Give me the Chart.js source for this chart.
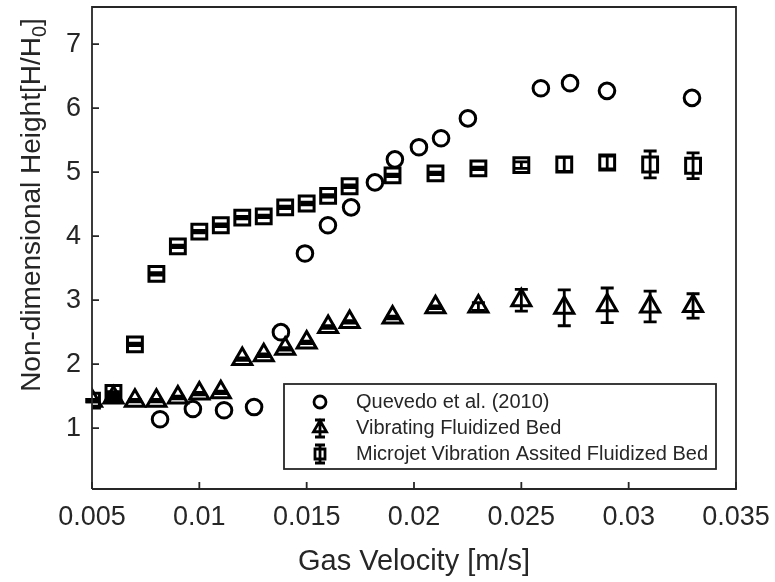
<!DOCTYPE html>
<html>
<head>
<meta charset="utf-8">
<script src="https://cdn.jsdelivr.net/npm/chart.js"></script>
<style>
  body { margin: 0; background: #ffffff; }
  #wrap { width: 775px; height: 582px; }
</style>
</head>
<body>
<div id="wrap"><canvas id="bedChart" width="775" height="582"></canvas></div>
<script>
// Quevedo et al. (2010) reference points
const quevedoX = [0.00817, 0.0097, 0.01115, 0.01255, 0.0138, 0.01492, 0.01599, 0.01707, 0.01818,
                  0.01911, 0.02023, 0.02126, 0.02251, 0.02591, 0.02727, 0.02899, 0.03295];
const quevedoY = [1.14, 1.30, 1.28, 1.33, 2.50, 3.73, 4.17, 4.45, 4.84,
                  5.20, 5.39, 5.53, 5.84, 6.31, 6.39, 6.27, 6.16];

// Gas velocities used in both bed experiments
const velocity = [0.005, 0.006, 0.007, 0.008, 0.009, 0.010, 0.011, 0.012, 0.013, 0.014, 0.015,
                  0.016, 0.017, 0.019, 0.021, 0.023, 0.025, 0.027, 0.029, 0.031, 0.033];

// Vibrating fluidized bed: mean height and error
const vibratingY = [1.43, 1.48, 1.43, 1.43, 1.48, 1.54, 1.56, 2.08, 2.14, 2.24, 2.34,
                    2.58, 2.66, 2.73, 2.89, 2.90, 3.00, 2.88, 2.92, 2.90, 2.91];
const vibratingErr = [0.02, 0.02, 0.02, 0.02, 0.02, 0.02, 0.02, 0.02, 0.02, 0.02, 0.02,
                      0.02, 0.02, 0.02, 0.02, 0.06, 0.17, 0.28, 0.27, 0.24, 0.19];

// Microjet vibration assisted fluidized bed: mean height and error
const microjetY = [1.43, 1.55, 2.31, 3.41, 3.84, 4.07, 4.17, 4.29, 4.31, 4.45, 4.51,
                   4.63, 4.78, 4.95, 4.98, 5.06, 5.11, 5.12, 5.15, 5.12, 5.10];
const microjetErr = [0.02, 0.02, 0.02, 0.02, 0.02, 0.02, 0.02, 0.02, 0.02, 0.02, 0.02,
                     0.02, 0.02, 0.02, 0.02, 0.02, 0.05, 0.11, 0.10, 0.21, 0.20];

const legendLabels = ['Quevedo et al. (2010)', 'Vibrating Fluidized Bed', 'Microjet Vibration Assited Fluidized Bed'];

const xTicks = [0.005, 0.01, 0.015, 0.02, 0.025, 0.03, 0.035];
const xTickLabels = ['0.005', '0.01', '0.015', '0.02', '0.025', '0.03', '0.035'];
const yTicks = [1, 2, 3, 4, 5, 6, 7];

const AXIS = '#262626';
const FONT = 'Liberation Sans, Arial, sans-serif';

function toPoints(xs, ys) {
    return xs.map((x, i) => ({ x: x, y: ys[i] }));
}

// fixed axis box: no label overhang padding
function fixAxis(size, dim) {
    return s => {
        s[dim] = size;
        s.paddingLeft = 0; s.paddingRight = 0;
        s.paddingTop = 0; s.paddingBottom = 0;
    };
}

// Vertical error bars with caps
const errorBars = {
    id: 'errorBars',
    afterDatasetsDraw(chart) {
        const ctx = chart.ctx;
        const xs = chart.scales.x, ys = chart.scales.y;
        chart.data.datasets.forEach(ds => {
            if (!ds.errors) return;
            ctx.save();
            ctx.strokeStyle = '#000000';
            ctx.lineWidth = 2.8;
            ds.data.forEach((p, i) => {
                const px = xs.getPixelForValue(p.x);
                const top = ys.getPixelForValue(p.y + ds.errors[i]);
                const bot = ys.getPixelForValue(p.y - ds.errors[i]);
                ctx.beginPath();
                ctx.moveTo(px, top); ctx.lineTo(px, bot);
                ctx.moveTo(px - 6.5, top); ctx.lineTo(px + 6.5, top);
                ctx.moveTo(px - 6.5, bot); ctx.lineTo(px + 6.5, bot);
                ctx.stroke();
            });
            ctx.restore();
        });
    }
};

// Box outline, inward tick marks, axis titles and legend
const decorations = {
    id: 'decorations',
    afterDraw(chart) {
        const ctx = chart.ctx;
        const a = chart.chartArea;
        const xs = chart.scales.x, ys = chart.scales.y;
        ctx.save();

        // box on
        ctx.strokeStyle = AXIS;
        ctx.lineWidth = 1.8;
        ctx.beginPath();
        ctx.moveTo(a.left, a.bottom); ctx.lineTo(a.left, a.top); ctx.lineTo(a.right, a.top);
        ctx.lineTo(a.right, a.bottom); ctx.lineTo(a.left, a.bottom);
        ctx.stroke();

        // ticks pointing into the plot
        ctx.beginPath();
        xTicks.forEach(v => {
            const px = xs.getPixelForValue(v);
            ctx.moveTo(px, a.bottom); ctx.lineTo(px, a.bottom - 7);
        });
        yTicks.forEach(v => {
            const py = ys.getPixelForValue(v);
            ctx.moveTo(a.left, py); ctx.lineTo(a.left + 7, py);
        });
        ctx.stroke();

        // x title
        ctx.fillStyle = AXIS;
        ctx.font = '29px ' + FONT;
        ctx.textAlign = 'center';
        ctx.textBaseline = 'middle';
        ctx.fillText('Gas Velocity [m/s]', (a.left + a.right) / 2, 562);

        // y title with subscript
        ctx.save();
        ctx.translate(30, 205);
        ctx.rotate(-Math.PI / 2);
        ctx.textAlign = 'left';
        ctx.textBaseline = 'alphabetic';
        const main = 'Non-dimensional Height[H/H', sub = '0', tail = ']';
        ctx.font = '28px ' + FONT;
        const w1 = ctx.measureText(main).width;
        const w3 = ctx.measureText(tail).width;
        ctx.font = '20px ' + FONT;
        const w2 = ctx.measureText(sub).width;
        let x0 = -(w1 + w2 + w3) / 2;
        ctx.font = '28px ' + FONT;
        ctx.fillText(main, x0, 10);
        ctx.font = '20px ' + FONT;
        ctx.fillText(sub, x0 + w1, 16);
        ctx.font = '28px ' + FONT;
        ctx.fillText(tail, x0 + w1 + w2, 10);
        ctx.restore();

        // legend box
        const lx = 284, ly = 384, lw = 432, lh = 85;
        ctx.fillStyle = '#ffffff';
        ctx.fillRect(lx, ly, lw, lh);
        ctx.strokeStyle = AXIS;
        ctx.lineWidth = 1.8;
        ctx.strokeRect(lx, ly, lw, lh);

        const rows = [402, 428, 454];
        const gx = 320;
        ctx.strokeStyle = '#000000';
        ctx.lineWidth = 2.8;

        // circle glyph
        ctx.beginPath();
        ctx.arc(gx, rows[0], 6, 0, Math.PI * 2);
        ctx.stroke();

        // triangle glyph with error bar
        let r = 7.5, cy = rows[1];
        ctx.beginPath();
        ctx.moveTo(gx, cy - r);
        ctx.lineTo(gx + r * 0.866, cy + r * 0.5);
        ctx.lineTo(gx - r * 0.866, cy + r * 0.5);
        ctx.closePath();
        ctx.moveTo(gx, cy - 8); ctx.lineTo(gx, cy + 9);
        ctx.moveTo(gx - 5, cy - 8); ctx.lineTo(gx + 5, cy - 8);
        ctx.moveTo(gx - 5, cy + 9); ctx.lineTo(gx + 5, cy + 9);
        ctx.stroke();

        // square glyph with error bar
        cy = rows[2];
        ctx.beginPath();
        ctx.rect(gx - 5, cy - 5, 10, 10);
        ctx.moveTo(gx, cy - 9); ctx.lineTo(gx, cy + 9);
        ctx.moveTo(gx - 5, cy - 9); ctx.lineTo(gx + 5, cy - 9);
        ctx.moveTo(gx - 5, cy + 9); ctx.lineTo(gx + 5, cy + 9);
        ctx.stroke();

        ctx.fillStyle = AXIS;
        ctx.font = '20px ' + FONT;
        ctx.textAlign = 'left';
        ctx.textBaseline = 'middle';
        legendLabels.forEach((t, i) => ctx.fillText(t, 356, rows[i]));

        ctx.restore();
    }
};

const ctx = document.getElementById('bedChart').getContext('2d');
new Chart(ctx, {
    type: 'scatter',
    data: {
        datasets: [
            {
                label: legendLabels[0],
                data: toPoints(quevedoX, quevedoY),
                pointStyle: 'circle',
                pointRadius: 7.8,
                borderWidth: 3,
                borderColor: '#000000',
                backgroundColor: 'transparent'
            },
            {
                label: legendLabels[1],
                data: toPoints(velocity, vibratingY),
                errors: vibratingErr,
                pointStyle: 'triangle',
                pointRadius: 11,
                borderWidth: 3,
                borderColor: '#000000',
                backgroundColor: 'transparent'
            },
            {
                label: legendLabels[2],
                data: toPoints(velocity, microjetY),
                errors: microjetErr,
                pointStyle: 'rect',
                pointRadius: 10.5,
                borderWidth: 3,
                borderColor: '#000000',
                backgroundColor: 'transparent'
            }
        ]
    },
    options: {
        responsive: false,
        animation: false,
        layout: { autoPadding: false, padding: { top: 7, right: 39, left: 0, bottom: 0 } },
        plugins: {
            legend: { display: false },
            tooltip: { enabled: false }
        },
        scales: {
            x: {
                type: 'linear',
                min: 0.005,
                max: 0.035,
                afterFit: fixAxis(93, 'height'),
                afterBuildTicks: s => { s.ticks = xTicks.map(v => ({ value: v })); },
                ticks: {
                    color: AXIS,
                    font: { family: FONT, size: 27 },
                    padding: 12,
                    maxRotation: 0,
                    autoSkip: false,
                    callback: (v, i) => xTickLabels[i]
                },
                grid: { display: false, drawTicks: false },
                border: { display: false }
            },
            y: {
                type: 'linear',
                min: 0.05,
                max: 7.58,
                afterFit: fixAxis(92, 'width'),
                afterBuildTicks: s => { s.ticks = yTicks.map(v => ({ value: v })); },
                ticks: {
                    color: AXIS,
                    font: { family: FONT, size: 27 },
                    padding: 11,
                    autoSkip: false,
                    callback: v => String(v)
                },
                grid: { display: false, drawTicks: false },
                border: { display: false }
            }
        }
    },
    plugins: [errorBars, decorations]
});
</script>
</body>
</html>
